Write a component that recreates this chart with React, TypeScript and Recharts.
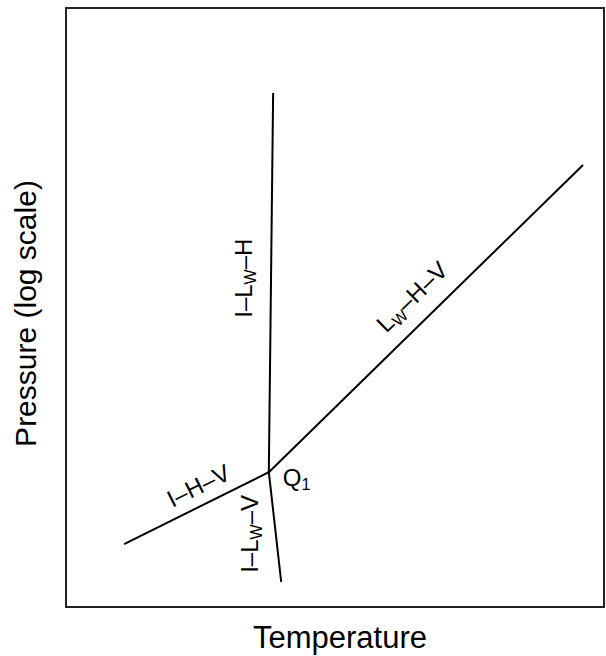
import { LineChart, Line, XAxis, YAxis, ReferenceDot, ReferenceArea } from 'recharts'

// phase boundaries, temperature vs log pressure (arbitrary units 0-100)
const iLwH = [{ t: 37.7, p: 22.5 }, { t: 38.5, p: 85.8 }]
const lwHV = [{ t: 37.7, p: 22.5 }, { t: 96.1, p: 73.8 }]
const iHV = [{ t: 10.8, p: 10.5 }, { t: 37.7, p: 22.5 }]
const iLwV = [{ t: 37.7, p: 22.5 }, { t: 40.0, p: 4.2 }]

// curve labels: [text, subscript, text after]
const labels = [
  { t: 34.6, p: 54.9, parts: ['I–L', 'W', '–H'], angle: -90, anchor: 'middle' },
  { t: 35.7, p: 12.2, parts: ['I–L', 'W', '–V'], angle: -90, anchor: 'middle' },
  { t: 65.4, p: 50.8, parts: ['L', 'W', '–H–V'], angle: -44.4, anchor: 'middle' },
  { t: 25.3, p: 19.0, parts: ['I–H–V', '', ''], angle: -26.4, anchor: 'middle' },
  { t: 40.3, p: 20.2, parts: ['Q', '1', ''], angle: 0, anchor: 'start' },
]

const FONT = '"Liberation Sans", Arial, Helvetica, sans-serif'

function PhaseLabel({ viewBox, parts, angle, anchor }: any) {
  const { x, y } = viewBox
  return (
    <text
      x={x} y={y}
      transform={angle ? `rotate(${angle}, ${x}, ${y})` : undefined}
      textAnchor={anchor}
      fontSize={24}
      fontFamily={FONT}
      fill="#000"
    >
      {parts[0]}
      {parts[1] && <tspan fontSize={16} dy={4}>{parts[1]}</tspan>}
      {parts[2] && <tspan dy={-4}>{parts[2]}</tspan>}
    </text>
  )
}

export default function App() {
  return (
    <div style={{ position: 'absolute', left: 0, top: 0 }}>
      <LineChart width={606} height={656} margin={{ top: 8, right: 2, bottom: 0, left: 0 }}>
        <XAxis
          type="number" dataKey="t" domain={[0, 100]}
          tick={false} tickLine={false} axisLine={false} height={49}
          label={({ viewBox }: any) => (
            <text x={viewBox.x + viewBox.width / 2 + 5} y={viewBox.y + viewBox.height - 8}
              textAnchor="middle" fontSize={31} fontFamily={FONT} fill="#000">
              Temperature
            </text>
          )}
        />
        <YAxis
          type="number" domain={[0, 100]}
          tick={false} tickLine={false} axisLine={false} width={66}
          label={({ viewBox }: any) => {
            const cy = viewBox.y + viewBox.height / 2 + 6
            return (
              <text x={36} y={cy} transform={`rotate(-90, 36, ${cy})`}
                textAnchor="middle" fontSize={30} fontFamily={FONT} fill="#000">
                Pressure (log scale)
              </text>
            )
          }}
        />
        <ReferenceArea x1={0} x2={100} y1={0} y2={100} fill="none" fillOpacity={0} stroke="#222" strokeWidth={2} />
        <Line data={iLwH} dataKey="p" type="linear" stroke="#000" strokeWidth={2} dot={false} isAnimationActive={false} />
        <Line data={lwHV} dataKey="p" type="linear" stroke="#000" strokeWidth={2} dot={false} isAnimationActive={false} />
        <Line data={iHV} dataKey="p" type="linear" stroke="#000" strokeWidth={2} dot={false} isAnimationActive={false} />
        <Line data={iLwV} dataKey="p" type="linear" stroke="#000" strokeWidth={2} dot={false} isAnimationActive={false} />
        {labels.map((l, i) => (
          <ReferenceDot
            key={i} x={l.t} y={l.p} r={0} fill="none" stroke="none"
            label={(props: any) => <PhaseLabel viewBox={props.viewBox} parts={l.parts} angle={l.angle} anchor={l.anchor} />}
          />
        ))}
      </LineChart>
    </div>
  )
}
